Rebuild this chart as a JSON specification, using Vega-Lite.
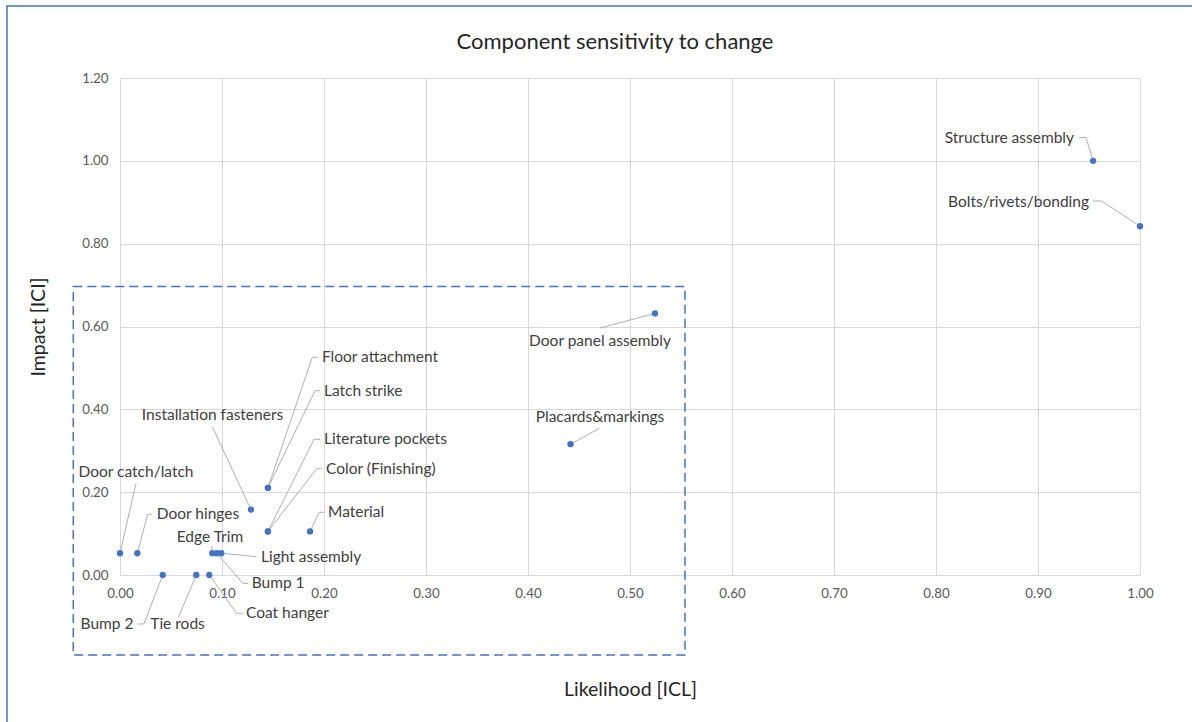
{
  "$schema": "https://vega.github.io/schema/vega-lite/v6.json",
  "width": 1020,
  "height": 497,
  "autosize": {"type": "none"},
  "padding": {"left": 120, "top": 78, "right": 52, "bottom": 147},
  "background": "white",
  "config": {"font": "Lato", "view": {"stroke": null}},
  "title": {"text": "Component sensitivity to change", "fontSize": 22, "fontWeight": "normal", "color": "#262626", "anchor": "middle", "frame": "group", "dx": -15, "offset": -49},
  "datasets": {
    "components": [
      {"name": "Structure assembly", "likelihood": 0.954, "impact": 1.0},
      {"name": "Bolts/rivets/bonding", "likelihood": 1.0, "impact": 0.8421},
      {"name": "Door panel assembly", "likelihood": 0.5245, "impact": 0.6316},
      {"name": "Placards&markings", "likelihood": 0.4417, "impact": 0.3158},
      {"name": "Floor attachment", "likelihood": 0.145, "impact": 0.2105},
      {"name": "Latch strike", "likelihood": 0.145, "impact": 0.2105},
      {"name": "Installation fasteners", "likelihood": 0.1284, "impact": 0.1579},
      {"name": "Literature pockets", "likelihood": 0.145, "impact": 0.1053},
      {"name": "Color (Finishing)", "likelihood": 0.145, "impact": 0.1053},
      {"name": "Material", "likelihood": 0.1863, "impact": 0.1053},
      {"name": "Door catch/latch", "likelihood": 0.0, "impact": 0.0526},
      {"name": "Door hinges", "likelihood": 0.017, "impact": 0.0526},
      {"name": "Edge Trim", "likelihood": 0.0905, "impact": 0.0526},
      {"name": "Bump 1", "likelihood": 0.0948, "impact": 0.0526},
      {"name": "Light assembly", "likelihood": 0.0993, "impact": 0.0526},
      {"name": "Bump 2", "likelihood": 0.0419, "impact": 0.0},
      {"name": "Tie rods", "likelihood": 0.0748, "impact": 0.0},
      {"name": "Coat hanger", "likelihood": 0.0875, "impact": 0.0}
    ],
    "labelsRight": [
      {"name": "Structure assembly", "lx": 0.9353, "ly": 1.0551},
      {"name": "Bolts/rivets/bonding", "lx": 0.95, "ly": 0.9006}
    ],
    "labelsLeft": [
      {"name": "Floor attachment", "lx": 0.198, "ly": 0.5264},
      {"name": "Latch strike", "lx": 0.2, "ly": 0.4443},
      {"name": "Literature pockets", "lx": 0.2, "ly": 0.3276},
      {"name": "Color (Finishing)", "lx": 0.202, "ly": 0.2567},
      {"name": "Material", "lx": 0.2039, "ly": 0.1514},
      {"name": "Door hinges", "lx": 0.036, "ly": 0.1466},
      {"name": "Light assembly", "lx": 0.1382, "ly": 0.0442},
      {"name": "Bump 1", "lx": 0.1291, "ly": -0.02},
      {"name": "Coat hanger", "lx": 0.1235, "ly": -0.0925}
    ],
    "labelsCenter": [
      {"name": "Door panel assembly", "lx": 0.4706, "ly": 0.565},
      {"name": "Placards&markings", "lx": 0.4706, "ly": 0.3815},
      {"name": "Installation fasteners", "lx": 0.0907, "ly": 0.3863},
      {"name": "Door catch/latch", "lx": 0.0157, "ly": 0.248},
      {"name": "Edge Trim", "lx": 0.0882, "ly": 0.0925},
      {"name": "Tie rods", "lx": 0.0564, "ly": -0.1183},
      {"name": "Bump 2", "lx": -0.0127, "ly": -0.1183}
    ],
    "leaders": [
      {"name": "Structure assembly", "seq": 0, "lx": 0.9402, "ly": 1.0563},
      {"name": "Structure assembly", "seq": 1, "lx": 0.9471, "ly": 1.0563},
      {"name": "Structure assembly", "seq": 2, "lx": 0.954, "ly": 1.0},
      {"name": "Bolts/rivets/bonding", "seq": 0, "lx": 0.9539, "ly": 0.903},
      {"name": "Bolts/rivets/bonding", "seq": 1, "lx": 0.9623, "ly": 0.903},
      {"name": "Bolts/rivets/bonding", "seq": 2, "lx": 1.0, "ly": 0.8421},
      {"name": "Door panel assembly", "seq": 0, "lx": 0.4706, "ly": 0.5964},
      {"name": "Door panel assembly", "seq": 1, "lx": 0.5245, "ly": 0.6316},
      {"name": "Placards&markings", "seq": 0, "lx": 0.47, "ly": 0.3542},
      {"name": "Placards&markings", "seq": 1, "lx": 0.4417, "ly": 0.3158},
      {"name": "Floor attachment", "seq": 0, "lx": 0.1944, "ly": 0.5256},
      {"name": "Floor attachment", "seq": 1, "lx": 0.1885, "ly": 0.5256},
      {"name": "Floor attachment", "seq": 2, "lx": 0.145, "ly": 0.2105},
      {"name": "Latch strike", "seq": 0, "lx": 0.1961, "ly": 0.445},
      {"name": "Latch strike", "seq": 1, "lx": 0.1912, "ly": 0.445},
      {"name": "Latch strike", "seq": 2, "lx": 0.145, "ly": 0.2105},
      {"name": "Literature pockets", "seq": 0, "lx": 0.1961, "ly": 0.3276},
      {"name": "Literature pockets", "seq": 1, "lx": 0.1902, "ly": 0.3276},
      {"name": "Literature pockets", "seq": 2, "lx": 0.145, "ly": 0.1053},
      {"name": "Color (Finishing)", "seq": 0, "lx": 0.1977, "ly": 0.2567},
      {"name": "Color (Finishing)", "seq": 1, "lx": 0.1928, "ly": 0.2567},
      {"name": "Color (Finishing)", "seq": 2, "lx": 0.145, "ly": 0.1053},
      {"name": "Material", "seq": 0, "lx": 0.2003, "ly": 0.1514},
      {"name": "Material", "seq": 1, "lx": 0.1953, "ly": 0.1514},
      {"name": "Material", "seq": 2, "lx": 0.1863, "ly": 0.1053},
      {"name": "Installation fasteners", "seq": 0, "lx": 0.0908, "ly": 0.3566},
      {"name": "Installation fasteners", "seq": 1, "lx": 0.1284, "ly": 0.1579},
      {"name": "Door catch/latch", "seq": 0, "lx": 0.0157, "ly": 0.2214},
      {"name": "Door catch/latch", "seq": 1, "lx": 0.0, "ly": 0.0526},
      {"name": "Door hinges", "seq": 0, "lx": 0.0311, "ly": 0.1466},
      {"name": "Door hinges", "seq": 1, "lx": 0.0271, "ly": 0.1466},
      {"name": "Door hinges", "seq": 2, "lx": 0.017, "ly": 0.0526},
      {"name": "Edge Trim", "seq": 0, "lx": 0.0899, "ly": 0.07},
      {"name": "Edge Trim", "seq": 1, "lx": 0.0905, "ly": 0.0526},
      {"name": "Light assembly", "seq": 0, "lx": 0.134, "ly": 0.0442},
      {"name": "Light assembly", "seq": 1, "lx": 0.0993, "ly": 0.0526},
      {"name": "Bump 1", "seq": 0, "lx": 0.1258, "ly": -0.02},
      {"name": "Bump 1", "seq": 1, "lx": 0.1203, "ly": -0.02},
      {"name": "Bump 1", "seq": 2, "lx": 0.0948, "ly": 0.0526},
      {"name": "Coat hanger", "seq": 0, "lx": 0.1203, "ly": -0.0925},
      {"name": "Coat hanger", "seq": 1, "lx": 0.1143, "ly": -0.0925},
      {"name": "Coat hanger", "seq": 2, "lx": 0.0875, "ly": 0.0},
      {"name": "Tie rods", "seq": 0, "lx": 0.0571, "ly": -0.1031},
      {"name": "Tie rods", "seq": 1, "lx": 0.0748, "ly": 0.0},
      {"name": "Bump 2", "seq": 0, "lx": 0.017, "ly": -0.1183},
      {"name": "Bump 2", "seq": 1, "lx": 0.0234, "ly": -0.1183},
      {"name": "Bump 2", "seq": 2, "lx": 0.0419, "ly": 0.0}
    ],
    "frames": [
      {"frame": "outer", "x1": -0.1108, "y1": 1.3736, "x2": 2.0, "y2": -1.0}
    ],
    "focus": [
      {"frame": "focus", "x1": -0.0458, "y1": 0.6966, "x2": 0.5539, "y2": -0.1932}
    ]
  },
  "layer": [
    {
      "data": {"name": "components"},
      "mark": {"type": "point", "opacity": 0},
      "encoding": {
        "x": {"field": "likelihood", "type": "quantitative", "title": "Likelihood [ICL]",
          "scale": {"domain": [0, 1], "nice": false, "zero": false},
          "axis": {"values": [0, 0.1, 0.2, 0.3, 0.4, 0.5, 0.6, 0.7, 0.8, 0.9, 1.0], "format": ".2f", "grid": true, "gridColor": "#d9d9d9", "gridWidth": 1, "ticks": false, "domainColor": "#d9d9d9", "labelFlush": false, "labelOverlap": false, "labelPadding": 11, "labelFontSize": 13.3, "labelColor": "#595959", "titleFontSize": 19.5, "titleFontWeight": "normal", "titleColor": "#262626", "titlePadding": 81}},
        "y": {"field": "impact", "type": "quantitative", "title": "Impact [ICI]",
          "scale": {"domain": [0, 1.2], "nice": false, "zero": false},
          "axis": {"values": [0, 0.2, 0.4, 0.6, 0.8, 1.0, 1.2], "format": ".2f", "grid": true, "gridColor": "#d9d9d9", "gridWidth": 1, "ticks": false, "domain": false, "labelFlush": false, "labelOverlap": false, "labelPadding": 12, "labelFontSize": 13.3, "labelColor": "#595959", "titleFontSize": 19.5, "titleFontWeight": "normal", "titleColor": "#262626", "titlePadding": 33}}
      }
    },
    {
      "data": {"name": "frames"},
      "mark": {"type": "rect", "fill": null, "stroke": "#4472C4", "strokeWidth": 1.5, "clip": false},
      "encoding": {
        "x": {"field": "x1", "type": "quantitative", "title": "Likelihood [ICL]"},
        "x2": {"field": "x2"},
        "y": {"field": "y1", "type": "quantitative", "title": "Impact [ICI]"},
        "y2": {"field": "y2"}
      }
    },
    {
      "data": {"name": "focus"},
      "mark": {"type": "rect", "fill": null, "stroke": "#4472C4", "strokeWidth": 1.5, "strokeDash": [9, 5]},
      "encoding": {
        "x": {"field": "x1", "type": "quantitative", "title": "Likelihood [ICL]"},
        "x2": {"field": "x2"},
        "y": {"field": "y1", "type": "quantitative", "title": "Impact [ICI]"},
        "y2": {"field": "y2"}
      }
    },
    {
      "data": {"name": "leaders"},
      "mark": {"type": "line", "color": "#a6a6a6", "strokeWidth": 0.9},
      "encoding": {
        "x": {"field": "lx", "type": "quantitative", "title": "Likelihood [ICL]"},
        "y": {"field": "ly", "type": "quantitative", "title": "Impact [ICI]"},
        "detail": {"field": "name"},
        "order": {"field": "seq"}
      }
    },
    {
      "data": {"name": "components"},
      "mark": {"type": "circle", "size": 40, "color": "#4472C4", "opacity": 1},
      "encoding": {
        "x": {"field": "likelihood", "type": "quantitative", "title": "Likelihood [ICL]"},
        "y": {"field": "impact", "type": "quantitative", "title": "Impact [ICI]"}
      }
    },
    {
      "data": {"name": "labelsRight"},
      "mark": {"type": "text", "align": "right", "baseline": "middle", "fontSize": 15.5, "color": "#404040"},
      "encoding": {
        "x": {"field": "lx", "type": "quantitative", "title": "Likelihood [ICL]"},
        "y": {"field": "ly", "type": "quantitative", "title": "Impact [ICI]"},
        "text": {"field": "name"}
      }
    },
    {
      "data": {"name": "labelsLeft"},
      "mark": {"type": "text", "align": "left", "baseline": "middle", "fontSize": 15.5, "color": "#404040"},
      "encoding": {
        "x": {"field": "lx", "type": "quantitative", "title": "Likelihood [ICL]"},
        "y": {"field": "ly", "type": "quantitative", "title": "Impact [ICI]"},
        "text": {"field": "name"}
      }
    },
    {
      "data": {"name": "labelsCenter"},
      "mark": {"type": "text", "align": "center", "baseline": "middle", "fontSize": 15.5, "color": "#404040"},
      "encoding": {
        "x": {"field": "lx", "type": "quantitative", "title": "Likelihood [ICL]"},
        "y": {"field": "ly", "type": "quantitative", "title": "Impact [ICI]"},
        "text": {"field": "name"}
      }
    }
  ]
}
